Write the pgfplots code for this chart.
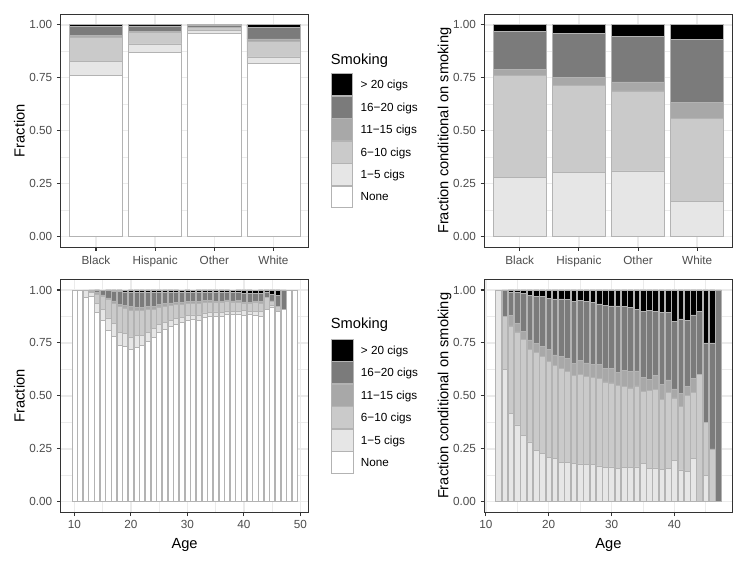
\documentclass[border=0pt]{standalone}
\usepackage{fontspec}
\setmainfont{Liberation Sans}
\usepackage{pgfplots}
\usepackage{pgfplotstable}
\pgfplotsset{compat=1.18}

\definecolor{cA}{HTML}{E6E6E6}
\definecolor{cB}{HTML}{CACACA}
\definecolor{cC}{HTML}{A8A8A8}
\definecolor{cD}{HTML}{7B7B7B}
\definecolor{cE}{HTML}{000000}
\definecolor{barline}{HTML}{B3B3B3}
\definecolor{gray92}{HTML}{EBEBEB}
\definecolor{gray20}{HTML}{333333}
\definecolor{gray30}{HTML}{4D4D4D}

% race: fraction of all
\pgfplotstableread{
x none a b c d e
1 0.760 0.0672 0.1152 0.0072 0.0432 0.0072
2 0.870 0.0397 0.0533 0.0048 0.0270 0.0052
3 0.960 0.0124 0.0151 0.0017 0.0086 0.0022
4 0.818 0.0300 0.0719 0.0137 0.0541 0.0124
}\raceall

% race: conditional on smoking
\pgfplotstableread{
x a b c d e
1 0.280 0.480 0.030 0.180 0.030
2 0.305 0.410 0.037 0.208 0.040
3 0.310 0.378 0.042 0.215 0.055
4 0.165 0.395 0.075 0.297 0.068
}\racecond

% age: fraction of all
\pgfplotstableread{
x none a b c d e
10 1 0 0 0 0 0
11 1 0 0 0 0 0
12 0.965 0.035 0 0 0 0
13 0.968 0.0200 0.0080 0 0.0040 0
14 0.893 0.0446 0.0442 0.0054 0.0118 0.0011
15 0.855 0.0526 0.0637 0.0059 0.0210 0.0017
16 0.808 0.0601 0.0874 0.0073 0.0342 0.0031
17 0.780 0.0623 0.0961 0.0097 0.0466 0.0053
18 0.737 0.0634 0.1218 0.0116 0.0581 0.0082
19 0.732 0.0616 0.1219 0.0126 0.0632 0.0086
20 0.720 0.0588 0.1266 0.0157 0.0683 0.0106
21 0.729 0.0550 0.1198 0.0130 0.0718 0.0114
22 0.737 0.0484 0.1173 0.0145 0.0718 0.0110
23 0.756 0.0449 0.1057 0.0146 0.0678 0.0110
24 0.776 0.0408 0.0932 0.0128 0.0652 0.0121
25 0.800 0.0358 0.0846 0.0130 0.0566 0.0100
26 0.814 0.0326 0.0777 0.0117 0.0538 0.0102
27 0.827 0.0303 0.0711 0.0109 0.0507 0.0100
28 0.838 0.0274 0.0667 0.0110 0.0462 0.0107
29 0.846 0.0249 0.0622 0.0099 0.0457 0.0112
30 0.858 0.0234 0.0562 0.0098 0.0419 0.0107
31 0.861 0.0218 0.0546 0.0083 0.0438 0.0104
32 0.858 0.0233 0.0540 0.0111 0.0425 0.0112
33 0.871 0.0209 0.0485 0.0098 0.0392 0.0106
34 0.874 0.0208 0.0481 0.0089 0.0367 0.0115
35 0.874 0.0227 0.0428 0.0087 0.0389 0.0129
36 0.874 0.0198 0.0465 0.0064 0.0412 0.0121
37 0.883 0.0187 0.0433 0.0080 0.0351 0.0119
38 0.883 0.0177 0.0388 0.0085 0.0395 0.0124
39 0.883 0.0183 0.0422 0.0068 0.0373 0.0124
40 0.880 0.0236 0.0352 0.0052 0.0380 0.0180
41 0.883 0.0176 0.0350 0.0071 0.0413 0.0160
42 0.880 0.0170 0.0432 0.0053 0.0374 0.0170
43 0.874 0.0256 0.0396 0.0084 0.0375 0.0149
44 0.910 0 0.0540 0 0.0270 0.0090
45 0.918 0.0103 0.0205 0 0.0308 0.0205
46 0.898 0 0.0255 0 0.0510 0.0255
47 0.909 0 0 0 0.0910 0
48 1 0 0 0 0 0
49 1 0 0 0 0 0
}\ageall

% age: conditional on smoking
\pgfplotstableread{
x a b c d e
12 1 0 0 0 0
13 0.625 0.250 0 0.125 0
14 0.417 0.413 0.050 0.110 0.010
15 0.363 0.439 0.041 0.145 0.012
16 0.313 0.455 0.038 0.178 0.016
17 0.283 0.437 0.044 0.212 0.024
18 0.241 0.463 0.044 0.221 0.031
19 0.230 0.455 0.047 0.236 0.032
20 0.210 0.452 0.056 0.244 0.038
21 0.203 0.442 0.048 0.265 0.042
22 0.184 0.446 0.055 0.273 0.042
23 0.184 0.433 0.060 0.278 0.045
24 0.182 0.416 0.057 0.291 0.054
25 0.179 0.423 0.065 0.283 0.050
26 0.175 0.418 0.063 0.289 0.055
27 0.175 0.411 0.063 0.293 0.058
28 0.169 0.412 0.068 0.285 0.066
29 0.162 0.404 0.064 0.297 0.073
30 0.165 0.396 0.069 0.295 0.075
31 0.157 0.393 0.060 0.315 0.075
32 0.164 0.380 0.078 0.299 0.079
33 0.162 0.376 0.076 0.304 0.082
34 0.165 0.382 0.071 0.291 0.091
35 0.180 0.340 0.069 0.309 0.102
36 0.157 0.369 0.051 0.327 0.096
37 0.160 0.370 0.068 0.300 0.102
38 0.151 0.332 0.073 0.338 0.106
39 0.156 0.361 0.058 0.319 0.106
40 0.197 0.293 0.043 0.317 0.150
41 0.150 0.299 0.061 0.353 0.137
42 0.142 0.360 0.044 0.312 0.142
43 0.203 0.314 0.067 0.298 0.118
44 0 0.600 0 0.300 0.100
45 0.125 0.250 0 0.375 0.250
46 0 0.250 0 0.500 0.250
47 0 0 0 1 0
}\agecond

\pgfplotsset{
  panel/.style={
    scale only axis, anchor=south west,
    ybar stacked, bar width=0.9,
    ymin=-0.05, ymax=1.05,
    ytick={0,0.25,0.5,0.75,1},
    minor ytick={0.125,0.375,0.625,0.875},
    grid=both,
    major grid style={color=gray92, line width=1.07pt},
    minor grid style={color=gray92, line width=0.53pt},
    minor tick length=0pt,
    major tick length=2.75pt,
    tick align=outside,
    tick pos=left,
    axis line style={color=gray20, line width=0.8pt},
    tick style={color=gray20, line width=0.8pt},
    tick label style={font=\fontsize{8.8}{10.5}\selectfont, text=gray30},
    label style={font=\fontsize{11}{13}\selectfont, text=black},
    ylabel style={text depth=0pt, inner sep=0pt, yshift=0pt},
    /pgf/number format/assume math mode=true,
    yticklabel style={/pgf/number format/.cd, fixed, fixed zerofill, precision=2},
    every axis plot/.append style={draw=barline, line width=0.45pt},
    legend image code/.code={\draw[##1, line width=0.45pt] (0pt,-8.2pt) rectangle (16.3pt,8.2pt);},
    legend cell align=left,
    reverse legend,
  },
  keylegend/.style={
    legend style={
      at={(#1)}, anchor=north west,
      draw=none, fill=none, inner sep=0pt, outer sep=0pt,
      row sep=0pt,
      font=\fontsize{8.8}{10.5}\selectfont,
      nodes={inner sep=0pt, outer sep=0pt, text depth=0pt},
      /tikz/every odd column/.append style={column sep=5.8pt},
    },
  },
}

\begin{document}
\begin{tikzpicture}
\useasboundingbox (0,0) rectangle (560.25pt,420.75pt);
\fill[white] (0,0) rectangle (560.25pt,420.75pt);

% ---------- top left ----------
\begin{axis}[panel, at={(45.4pt,235.3pt)}, width=186.3pt, height=174.8pt,
  xmin=0.4, xmax=4.6, xtick={1,2,3,4},
  xticklabels={Black,Hispanic,Other,White},
  ylabel={Fraction},
  keylegend={1.0873,0.7465}]
\addplot[fill=white] table[x=x,y=none] {\raceall};
\addplot[fill=cA] table[x=x,y=a] {\raceall};
\addplot[fill=cB] table[x=x,y=b] {\raceall};
\addplot[fill=cC] table[x=x,y=c] {\raceall};
\addplot[fill=cD] table[x=x,y=d] {\raceall};
\addplot[fill=cE] table[x=x,y=e] {\raceall};
\legend{None,1−5 cigs,6−10 cigs,11−15 cigs,16−20 cigs,> 20 cigs}
\end{axis}

% ---------- top right ----------
\begin{axis}[panel, at={(363.2pt,235.3pt)}, width=186.3pt, height=174.8pt,
  xmin=0.4, xmax=4.6, xtick={1,2,3,4},
  xticklabels={Black,Hispanic,Other,White},
  ylabel={Fraction conditional on smoking}]
\addplot[fill=cA] table[x=x,y=a] {\racecond};
\addplot[fill=cB] table[x=x,y=b] {\racecond};
\addplot[fill=cC] table[x=x,y=c] {\racecond};
\addplot[fill=cD] table[x=x,y=d] {\racecond};
\addplot[fill=cE] table[x=x,y=e] {\racecond};
\end{axis}

% ---------- bottom left ----------
\begin{axis}[panel, at={(45.4pt,36.5pt)}, width=186.1pt, height=174.7pt,
  xmin=7.555, xmax=51.445, xtick={10,20,30,40,50},
  minor xtick={15,25,35,45},
  xlabel={Age}, ylabel={Fraction},
  keylegend={1.0896,0.7441}]
\addplot[fill=white] table[x=x,y=none] {\ageall};
\addplot[fill=cA] table[x=x,y=a] {\ageall};
\addplot[fill=cB] table[x=x,y=b] {\ageall};
\addplot[fill=cC] table[x=x,y=c] {\ageall};
\addplot[fill=cD] table[x=x,y=d] {\ageall};
\addplot[fill=cE] table[x=x,y=e] {\ageall};
\legend{None,1−5 cigs,6−10 cigs,11−15 cigs,16−20 cigs,> 20 cigs}
\end{axis}

% ---------- bottom right ----------
\begin{axis}[panel, at={(363.2pt,36.5pt)}, width=186.2pt, height=174.7pt,
  xmin=9.755, xmax=49.245, xtick={10,20,30,40},
  minor xtick={15,25,35,45},
  xlabel={Age}, ylabel={Fraction conditional on smoking}]
\addplot[fill=cA] table[x=x,y=a] {\agecond};
\addplot[fill=cB] table[x=x,y=b] {\agecond};
\addplot[fill=cC] table[x=x,y=c] {\agecond};
\addplot[fill=cD] table[x=x,y=d] {\agecond};
\addplot[fill=cE] table[x=x,y=e] {\agecond};
\end{axis}

\node[anchor=base west, inner sep=0pt, font=\fontsize{11}{13}\selectfont] at (248pt,372pt) {Smoking};
\node[anchor=base west, inner sep=0pt, font=\fontsize{11}{13}\selectfont] at (248pt,174pt) {Smoking};
\end{tikzpicture}
\end{document}
